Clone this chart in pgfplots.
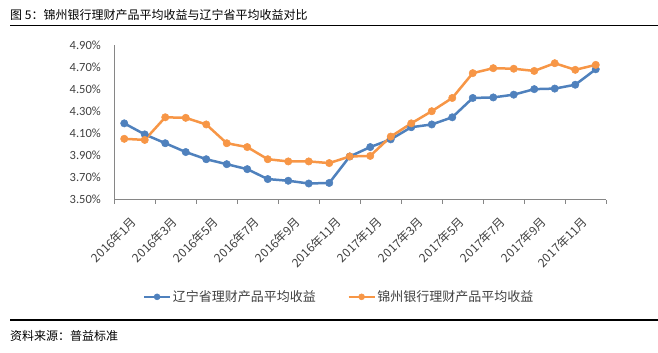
\documentclass[border=0pt]{standalone}
\usepackage{fontspec}
\setmainfont{Carlito}
\newfontfamily\cjk{Noto Sans CJK SC}
\usepackage{pgfplots}
\pgfplotsset{compat=1.18}
\definecolor{cblue}{HTML}{4F81BD}
\definecolor{corange}{HTML}{F79646}
\definecolor{axgray}{HTML}{868686}
\definecolor{lblgray}{HTML}{404040}

\pgfplotstableread{
x blue orange
1 4.19 4.05
2 4.09 4.04
3 4.01 4.245
4 3.93 4.24
5 3.865 4.18
6 3.82 4.01
7 3.775 3.975
8 3.685 3.865
9 3.67 3.845
10 3.645 3.845
11 3.65 3.83
12 3.89 3.89
13 3.975 3.895
14 4.045 4.07
15 4.155 4.19
16 4.18 4.30
17 4.245 4.42
18 4.42 4.645
19 4.425 4.69
20 4.45 4.685
21 4.50 4.665
22 4.505 4.735
23 4.54 4.675
24 4.68 4.72
}\datatable

\begin{document}
\begin{tikzpicture}[x=1pt,y=1pt]
\path[use as bounding box] (0,0) rectangle (658,-353);
\node[anchor=west, inner sep=0pt, font=\cjk\fontsize{12}{14}\selectfont] at (10,-15) {图 5：锦州银行理财产品平均收益与辽宁省平均收益对比};
\draw[line width=1.3pt] (10,-25.5) -- (658,-25.5);
\draw[line width=1.3pt] (10,-320) -- (658,-320);
\node[anchor=west, inner sep=0pt, font=\cjk\fontsize{12}{14}\selectfont] at (10,-336) {资料来源：普益标准};
\begin{axis}[
  at={(114pt,-199.5pt)}, anchor=south west, scale only axis,
  width=492pt, height=154.5pt,
  xmin=0.5, xmax=24.5, ymin=3.5, ymax=4.9,
  axis x line*=bottom, axis y line*=left,
  axis line style={axgray, line width=0.75pt, -},
  xtick={1,3,...,23},
  xticklabels={2016年1月,2016年3月,2016年5月,2016年7月,2016年9月,2016年11月,2017年1月,2017年3月,2017年5月,2017年7月,2017年9月,2017年11月},
  minor xtick={0.5,2.5,...,24.5},
  major tick length=0pt, minor tick length=4pt,
  tick align=outside,
  minor tick style={axgray, line width=0.75pt},
  ytick={3.5,3.7,3.9,4.1,4.3,4.5,4.7,4.9},
  yticklabel={\pgfmathprintnumber[fixed,fixed zerofill,precision=2]{\tick}\%},
  /pgf/number format/assume math mode=true,
  yticklabel style={anchor=east, inner sep=0pt, xshift=-13pt, font=\fontsize{12.5}{14}\selectfont, text=lblgray},
  xticklabel style={rotate=45, anchor=north east, inner sep=0pt, xshift=-7pt, yshift=-15.5pt, font=\cjk\fontsize{12}{13}\selectfont, text=lblgray},
  clip=false,
  legend style={at={(0.457,-0.63)}, anchor=center, draw=none, fill=none, legend columns=2,
    font=\cjk\fontsize{13}{15}\selectfont, text=lblgray,
    /tikz/every even column/.append style={column sep=30pt},
    nodes={inner sep=1.5pt}},
  legend cell align=left,
  legend image code/.code={\draw[mark repeat=2,mark phase=2, mark size=3pt] plot coordinates {(0pt,0pt) (13pt,0pt) (26pt,0pt)};},
]
\addplot[cblue, line width=2.5pt, mark=*, mark size=3.7pt, mark options={solid, line width=0.5pt, fill=cblue, draw=cblue}] table[x=x, y=blue] {\datatable};
\addlegendentry{辽宁省理财产品平均收益}
\addplot[corange, line width=2.5pt, mark=*, mark size=3.7pt, mark options={solid, line width=0.5pt, fill=corange, draw=corange}] table[x=x, y=orange] {\datatable};
\addlegendentry{锦州银行理财产品平均收益}
\end{axis}
\end{tikzpicture}
\end{document}
